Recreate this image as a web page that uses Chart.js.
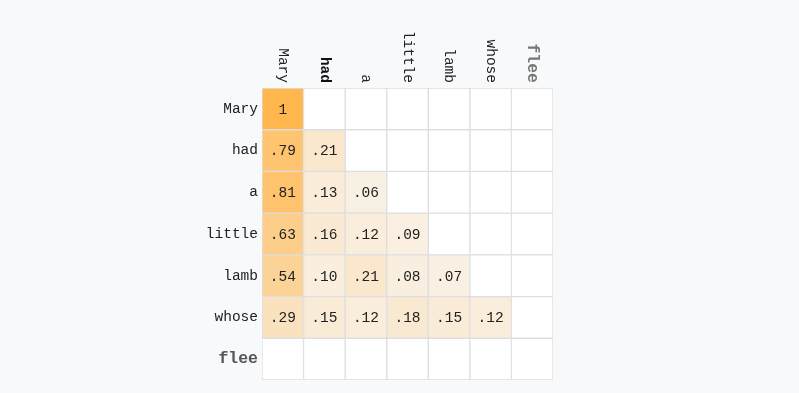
<!DOCTYPE html>
<html>
<head>
<meta charset="utf-8">
<script src="https://cdn.jsdelivr.net/npm/chart.js@4"></script>
<style>
html,body{margin:0;padding:0;background:#f8f9fb;}
#wrap{position:relative;width:799px;height:393px;}
</style>
</head>
<body>
<div id="wrap"><canvas id="c" width="799" height="393"></canvas></div>
<script>
const rowLabels = ['Mary','had','a','little','lamb','whose','flee'];
const colLabels = ['Mary','had','a','little','lamb','whose','flee'];
const rowMary   = [1];
const rowHad    = [0.79, 0.21];
const rowA      = [0.81, 0.13, 0.06];
const rowLittle = [0.63, 0.16, 0.12, 0.09];
const rowLamb   = [0.54, 0.10, 0.21, 0.08, 0.07];
const rowWhose  = [0.29, 0.15, 0.12, 0.18, 0.15, 0.12];
const rowFlee   = [];
const matrix = [rowMary, rowHad, rowA, rowLittle, rowLamb, rowWhose, rowFlee];

const MONO = '"Liberation Mono", "DejaVu Sans Mono", monospace';

function val(r, c) {
  const v = matrix[r][c];
  return (v === undefined) ? null : v;
}
function cellColor(v) {
  if (v === null) return '#ffffff';
  const lo = [249, 244, 238], hi = [255, 183, 77];
  const m = lo.map((l, i) => Math.round(l + (hi[i] - l) * v));
  return `rgb(${m[0]},${m[1]},${m[2]})`;
}
function fmt(v) {
  if (v === 1) return '1';
  return v.toFixed(2).replace(/^0/, '');
}

const datasets = colLabels.map((cl, c) => ({
  label: cl,
  data: rowLabels.map(() => 1),
  backgroundColor: rowLabels.map((rl, r) => cellColor(val(r, c))),
  borderColor: '#dddee1',
  borderWidth: 1,
  borderSkipped: false,
  barPercentage: 1,
  categoryPercentage: 1
}));

const cellText = {
  id: 'cellText',
  afterDatasetsDraw(chart) {
    const ctx = chart.ctx;
    ctx.save();
    ctx.font = '14.5px ' + MONO;
    ctx.fillStyle = '#222';
    ctx.textAlign = 'center';
    ctx.textBaseline = 'middle';
    chart.data.datasets.forEach((ds, c) => {
      const meta = chart.getDatasetMeta(c);
      meta.data.forEach((bar, r) => {
        const v = val(r, c);
        if (v === null) return;
        const cx = (bar.x + bar.base) / 2;
        ctx.fillText(fmt(v), cx, bar.y + 1);
      });
    });
    // column labels, rotated clockwise, reading top to bottom
    chart.data.datasets.forEach((ds, c) => {
      const bar = chart.getDatasetMeta(c).data[0];
      const cx = (bar.x + bar.base) / 2;
      ctx.save();
      ctx.translate(cx, chart.chartArea.top - 5);
      ctx.rotate(Math.PI / 2);
      ctx.textAlign = 'right';
      ctx.textBaseline = 'middle';
      if (c === 1) { ctx.font = 'bold 14.5px ' + MONO; ctx.fillStyle = '#111'; }
      else if (c === 6) { ctx.font = 'bold 16.5px ' + MONO; ctx.fillStyle = '#777'; }
      else { ctx.font = '14.5px ' + MONO; ctx.fillStyle = '#222'; }
      ctx.fillText(colLabels[c], 0, 0);
      ctx.restore();
    });
    ctx.restore();
  }
};

new Chart(document.getElementById('c'), {
  type: 'bar',
  data: { labels: rowLabels, datasets },
  options: {
    indexAxis: 'y',
    responsive: false,
    animation: false,
    layout: { padding: { left: 0, right: 246, top: 88, bottom: 13 } },
    plugins: { legend: { display: false }, tooltip: { enabled: false } },
    scales: {
      x: { type: 'linear', min: 0, max: 7, stacked: true, display: false },
      y: {
        stacked: true,
        grid: { display: false, drawTicks: false },
        border: { display: false },
        afterFit(scale) { scale.width = 262; },
        ticks: {
          padding: 4,
          color: (ctx) => ctx.index === 6 ? '#555' : '#222',
          font: (ctx) => ctx.index === 6
            ? { family: MONO, size: 16.5, weight: 'bold' }
            : { family: MONO, size: 14.5, weight: 'normal' }
        }
      }
    }
  },
  plugins: [cellText]
});
</script>
</body>
</html>
